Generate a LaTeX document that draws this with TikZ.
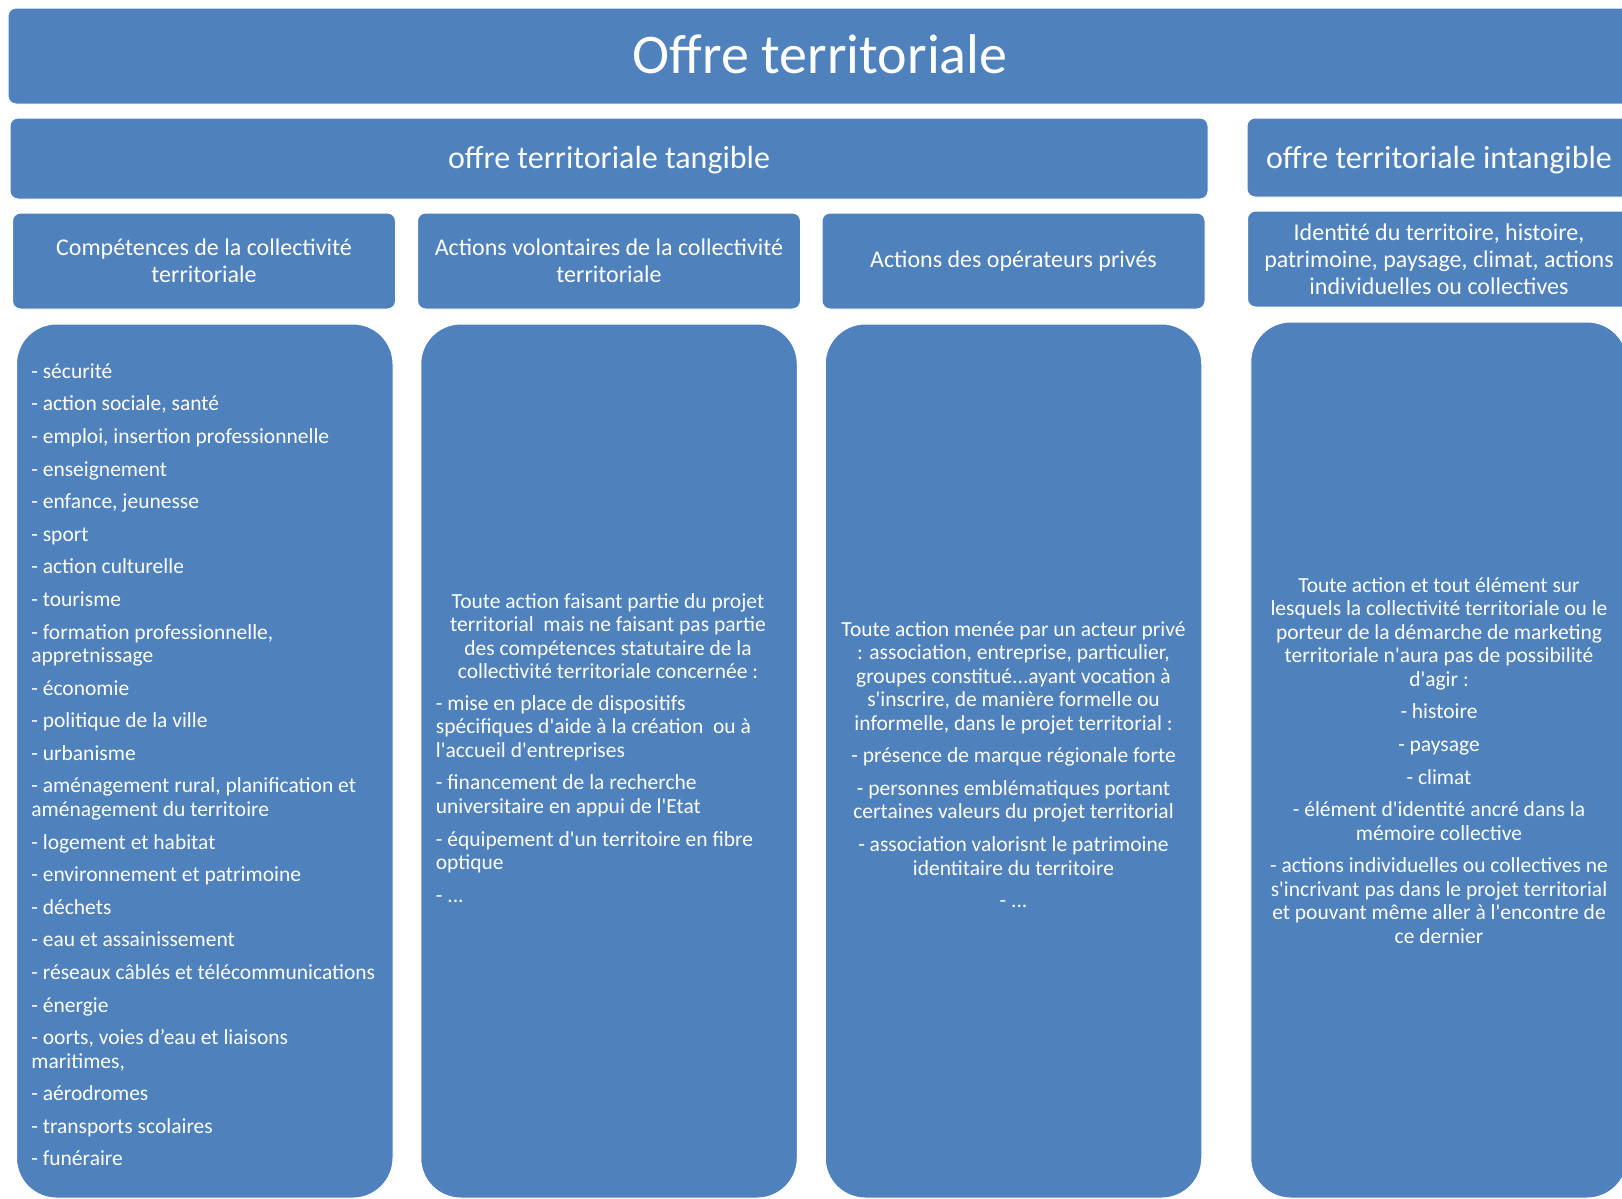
\documentclass[tikz,border=0pt]{standalone}
\usepackage{fontspec}
\setmainfont{Carlito}[Ligatures=TeXOff]
\definecolor{offreblue}{RGB}{79,129,189}
\newcommand{\itemgap}{\\[4.55pt]}

\begin{document}
\begin{tikzpicture}[x=0.5pt, y=-0.5pt,
    box/.style = {draw=white, line width=0.5pt, fill=offreblue, text=white, rounded corners=4pt, inner sep=0pt, align=center},
    headbox/.style = {box, minimum width=191.5pt, minimum height=48pt, font=\fontsize{12}{13.4}\selectfont},
    colbox/.style = {box, rounded corners=20pt, minimum width=188.25pt, minimum height=437pt},
    body/.style = {text=white, inner sep=0pt, font=\fontsize{10.75}{11.75}\selectfont}]
    \useasboundingbox (0,0) rectangle (1622,1199);
    \clip (0,0) rectangle (1622,1199);

    % title and the two halves
    \node[box, minimum width=812pt, minimum height=48pt, font=\fontsize{28}{33}\selectfont] (n_title) at (820,56) {\raisebox{1pt}[\height][\depth]{Offre territoriale}};
    \node[box, minimum width=599pt, minimum height=40.5pt, font=\fontsize{16}{19}\selectfont] (n_tang) at (609,158.5) {\raisebox{-1pt}[\height][\depth]{offre territoriale tangible}};
    \node[box, minimum width=192pt, minimum height=39.5pt, font=\fontsize{16}{19}\selectfont] (n_intang) at (1439,157.5) {\raisebox{-1.5pt}[\height][\depth]{offre territoriale intangible}};

    % column headers
    \node[headbox] (h_1) at (204,261) {Compétences de la collectivité\\ territoriale};
    \node[headbox] (h_2) at (609,261) {Actions volontaires de la collectivité\\ territoriale};
    \node[headbox] (h_3) at (1013.5,261) {Actions des opérateurs privés};
    \node[headbox] (h_4) at (1439,259) {Identité du territoire, histoire,\\ patrimoine, paysage, climat, actions\\ individuelles ou collectives};

    % column bodies
    \node[colbox] (c_1) at (204.75,761) {};
    \node[colbox] (c_2) at (609,761) {};
    \node[colbox] (c_3) at (1013.5,761) {};
    \node[colbox, minimum height=438pt] (c_4) at (1439,760) {};

    \node[body, align=left, anchor=north west] (t_1) at (31,363) {- sécurité\itemgap - action sociale, santé\itemgap - emploi, insertion professionnelle\itemgap - enseignement\itemgap - enfance, jeunesse\itemgap - sport\itemgap - action culturelle\itemgap - tourisme\itemgap - formation professionnelle,\\ appretnissage\itemgap - économie\itemgap - politique de la ville\itemgap - urbanisme\itemgap - aménagement rural, planification et\\ aménagement du territoire\itemgap - logement et habitat\itemgap - environnement et patrimoine\itemgap - déchets\itemgap - eau et assainissement\itemgap - réseaux câblés et télécommunications\itemgap - énergie\itemgap - oorts, voies d’eau et liaisons\\ maritimes,\itemgap - aérodromes\itemgap - transports scolaires\itemgap - funéraire};

    \node[body, align=center, anchor=north] (t_2a) at (608,593) {Toute action faisant partie du projet\\ territorial~ mais ne faisant pas partie\\ des compétences statutaire de la\\ collectivité territoriale concernée :};
    \node[body, align=left, anchor=north west] (t_2b) at (435.5,695) {- mise en place de dispositifs\\ spécifiques d'aide à la création~ ou à\\ l'accueil d'entreprises\itemgap - financement de la recherche\\ universitaire en appui de l'Etat\itemgap - équipement d'un territoire en fibre\\ optique\itemgap - ...};

    \node[body, align=center, anchor=north] (t_3) at (1013.5,621) {Toute action menée par un acteur privé\\ : association, entreprise, particulier,\\ groupes constitué...ayant vocation à\\ s'inscrire, de manière formelle ou\\ informelle, dans le projet territorial :\itemgap - présence de marque régionale forte\itemgap - personnes emblématiques portant\\ certaines valeurs du projet territorial\itemgap - association valorisnt le patrimoine\\ identitaire du territoire\itemgap - ...};

    \node[body, align=center, anchor=north] (t_4) at (1439,577) {Toute action et tout élément sur\\ lesquels la collectivité territoriale ou le\\ porteur de la démarche de marketing\\ territoriale n'aura pas de possibilité\\ d'agir :\itemgap - histoire\itemgap - paysage\itemgap - climat\itemgap - élément d'identité ancré dans la\\ mémoire collective\itemgap - actions individuelles ou collectives ne\\ s'incrivant pas dans le projet territorial\\ et pouvant même aller à l'encontre de\\ ce dernier};
\end{tikzpicture}
\end{document}
